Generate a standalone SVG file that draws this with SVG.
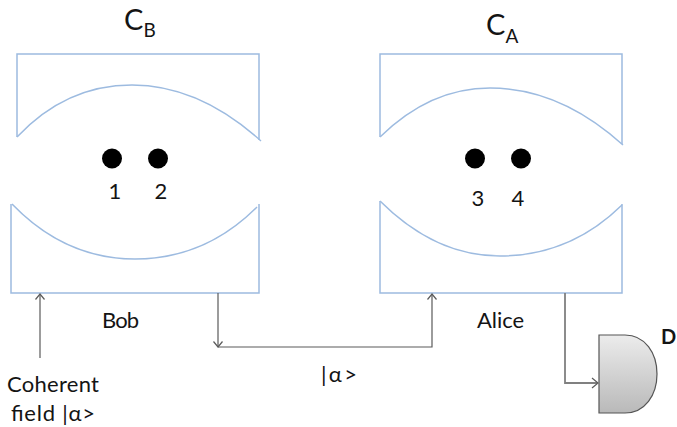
<svg xmlns="http://www.w3.org/2000/svg" width="677" height="427" viewBox="0 0 677 427">
<style>
.c{fill:none;stroke:#9dbbe0;stroke-width:1.5}
.w{fill:none;stroke:#5a5a5a;stroke-width:1.2}
.g{fill:none;stroke:#808080;stroke-width:1.8}
.t{font-family:"Lato","Open Sans",sans-serif;fill:#141414;font-size:22px}
.m{text-anchor:middle}
.h{font-size:29px}
.s{font-size:19px}
</style>
<defs>
<marker id="a" markerUnits="userSpaceOnUse" markerWidth="12" markerHeight="12" refX="10" refY="6" orient="auto"><path d="M4.5 1.5L10 6L4.5 10.5" fill="none" stroke="#5a5a5a" stroke-width="1.2"/></marker>
<linearGradient id="d" x1="0" y1="0" x2="0" y2="1"><stop offset="0" stop-color="#ececec"/><stop offset="1" stop-color="#b9b9b9"/></linearGradient>
</defs>
<rect width="677" height="427" fill="#fff"/>
<g id="cavity-b">
<path class="c" d="M17 137V54H259V140"/>
<path class="c" d="M17 137Q66 85 132 85Q199 85 261 141"/>
<path class="c" d="M11 204V293H259V204"/>
<path class="c" d="M12 204Q65 259 135 259Q205 259 257 207"/>
<text class="t h" x="124" y="30">C<tspan class="s" dy="7">B</tspan></text>
</g>
<g id="cavity-a">
<path class="c" d="M380 137V54H622V144"/>
<path class="c" d="M380 137Q430 88 490 88Q560 88 623 145"/>
<path class="c" d="M380 201V293H622V204"/>
<path class="c" d="M380 201Q435 256 500 256Q570 256 622 205"/>
<text class="t h" x="486" y="35">C<tspan class="s" dy="8">A</tspan></text>
</g>
<g id="atom-1"><circle cx="112" cy="158.5" r="10"/><text class="t m" x="115" y="199">1</text></g>
<g id="atom-2"><circle cx="158" cy="158.5" r="10"/><text class="t m" x="161" y="199">2</text></g>
<g id="atom-3"><circle cx="475" cy="158.5" r="10"/><text class="t m" x="478" y="206">3</text></g>
<g id="atom-4"><circle cx="521" cy="158.5" r="10"/><text class="t m" x="518" y="206">4</text></g>
<g id="detector">
<path d="M599 335H625C645 335 657 353 657 374C657 395 645 413 625 413H599Z" fill="url(#d)" stroke="#555" stroke-width="1.2"/>
<text x="661" y="344" style="font-family:'Lato',sans-serif;font-size:20px;font-weight:700" fill="#141414">D</text>
</g>
<g id="connectors">
<path class="w" d="M40 358V294" marker-end="url(#a)"/>
<path class="w" d="M218 293V347" marker-end="url(#a)"/>
<path class="w" d="M218 347H432V294" marker-end="url(#a)"/>
<path class="g" d="M565 293V383H597"/>
<path class="w" d="M592 378L598 383L592 388"/>
</g>
<g id="labels">
<text class="t" x="102" y="328" textLength="37">Bob</text>
<text class="t" x="477" y="328" textLength="47">Alice</text>
<text class="t" x="321" y="382" textLength="36">|α&gt;</text>
<text class="t" x="7" y="392" textLength="92">Coherent</text>
<text class="t" x="11" y="421" textLength="84">field |α&gt;</text>
</g>
</svg>
